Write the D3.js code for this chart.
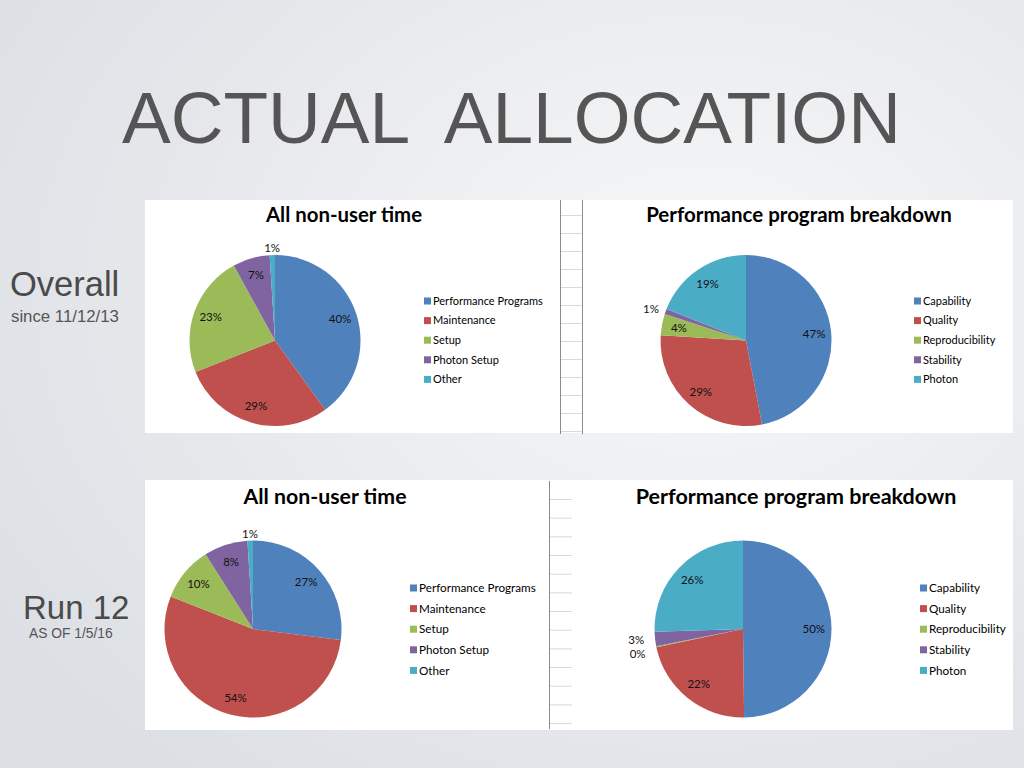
<!DOCTYPE html>
<html>
<head>
<meta charset="utf-8">
<script src="https://cdn.jsdelivr.net/npm/d3@7"></script>
<style>
    body { margin: 0; overflow: hidden; }
    svg { display: block; }
</style>
</head>
<body>
<div id="slide"></div>
<script>
// Data
var overallCategories = ["Performance Programs", "Maintenance", "Setup", "Photon Setup", "Other"];
var perfCategories = ["Capability", "Quality", "Reproducibility", "Stability", "Photon"];

// Overall (since 11/12/13)
var overallValues = [40, 29, 23, 7, 1];
var overallPerfValues = [47, 29, 4, 1, 19];

// Run 12 (as of 1/5/16)
var run12Values = [27, 54, 10, 8, 1];
var run12PerfValues = [49.8, 21.9, 0.2, 2.6, 25.5];

var chartTitles = ["All non-user time", "Performance program breakdown"];
var sideLabels = ["Overall", "Run 12"];
var sideSubLabels = ["since 11/12/13", "AS OF 1/5/16"];

// Excel 2007 default palette
var colors = ["#4F81BD", "#C0504D", "#9BBB59", "#8064A2", "#4BACC6"];

var svgWidth = 1024;
var svgHeight = 768;

var svg = d3.select("#slide")
    .append("svg")
    .attr("width", svgWidth)
    .attr("height", svgHeight);

// Background gradient
var defs = svg.append("defs");
var grad = defs.append("radialGradient")
    .attr("id", "bg")
    .attr("cx", "68%")
    .attr("cy", "38%")
    .attr("r", "80%");
grad.append("stop").attr("offset", "0%").attr("stop-color", "#f7f8f9");
grad.append("stop").attr("offset", "100%").attr("stop-color", "#dcdfe4");

svg.append("rect")
    .attr("width", svgWidth)
    .attr("height", svgHeight)
    .attr("fill", "url(#bg)");

// Slide title
svg.append("text")
    .attr("x", 122)
    .attr("y", 143)
    .style("white-space", "pre")
    .attr("font-family", "'Liberation Sans', Arial, sans-serif")
    .attr("font-size", 73)
    .attr("fill", "#555555")
    .text("ACTUAL  ALLOCATION");

// Side labels
var sides = [
    { x: 10, y: 296, size: 34.5, subX: 11, subY: 322, subSize: 16.8 },
    { x: 23, y: 619, size: 33, subX: 29, subY: 638, subSize: 13.8 }
];
sides.forEach(function (s, i) {
    svg.append("text")
        .attr("x", s.x)
        .attr("y", s.y)
        .attr("font-family", "'Liberation Sans', Arial, sans-serif")
        .attr("font-size", s.size)
        .attr("fill", "#4a4a4a")
        .text(sideLabels[i]);
    svg.append("text")
        .attr("x", s.subX)
        .attr("y", s.subY)
        .attr("font-family", "'Liberation Sans', Arial, sans-serif")
        .attr("font-size", s.subSize)
        .attr("fill", "#555555")
        .text(sideSubLabels[i]);
});

// White chart panels pasted from the spreadsheet
var panels = [
    { x: 145, y: 200, w: 868, h: 233 },
    { x: 145, y: 480, w: 868, h: 250 }
];
svg.selectAll(".panel")
    .data(panels)
    .enter()
    .append("rect")
    .attr("class", "panel")
    .attr("x", d => d.x)
    .attr("y", d => d.y)
    .attr("width", d => d.w)
    .attr("height", d => d.h)
    .attr("fill", "#ffffff");

// Spreadsheet cell strip between the two charts (top)
var gridTop = svg.append("g");
gridTop.selectAll("line.h")
    .data(d3.range(13))
    .enter()
    .append("line")
    .attr("x1", 560.5)
    .attr("x2", 582.5)
    .attr("y1", d => 215.5 + d * 18)
    .attr("y2", d => 215.5 + d * 18)
    .attr("stroke", "#d9d9d9");
gridTop.selectAll("line.v")
    .data([560.5, 582.5])
    .enter()
    .append("line")
    .attr("x1", d => d)
    .attr("x2", d => d)
    .attr("y1", 200)
    .attr("y2", 434)
    .attr("stroke", "#8c8c8c");

// Spreadsheet cell strip (bottom)
var gridBottom = svg.append("g");
gridBottom.selectAll("line")
    .data(d3.range(13))
    .enter()
    .append("line")
    .attr("x1", 549.5)
    .attr("x2", 572)
    .attr("y1", d => 499.5 + d * 18.67)
    .attr("y2", d => 499.5 + d * 18.67)
    .attr("stroke", "#d9d9d9");
gridBottom.append("line")
    .attr("x1", 549.5)
    .attr("x2", 549.5)
    .attr("y1", 481)
    .attr("y2", 729)
    .attr("stroke", "#8c8c8c");

// Layout of the four pie charts
var charts = [
    { values: overallValues, cats: overallCategories, title: chartTitles[0],
      cx: 275, cy: 340.5, r: 85.5, titleX: 344, titleY: 222, titleSize: 20.4,
      legX: 424, legY: 301, legStep: 19.6, legSize: 11, gap: 7 },
    { values: overallPerfValues, cats: perfCategories, title: chartTitles[1],
      cx: 746, cy: 340.5, r: 85.5, titleX: 799, titleY: 222, titleSize: 20.5,
      legX: 914, legY: 301, legStep: 19.6, legSize: 11, gap: 7 },
    { values: run12Values, cats: overallCategories, title: chartTitles[0],
      cx: 253, cy: 629, r: 88.5, titleX: 325, titleY: 504, titleSize: 21.3,
      legX: 410, legY: 588, legStep: 20.6, legSize: 11.7, gap: 7 },
    { values: run12PerfValues, cats: perfCategories, title: chartTitles[1],
      cx: 743, cy: 629, r: 88.5, titleX: 796, titleY: 504, titleSize: 21.5,
      legX: 920, legY: 588, legStep: 20.6, legSize: 11.7, gap: 11 }
];

var pie = d3.pie()
    .sort(null)
    .value(d => d);

function drawPie(c) {
    var g = svg.append("g")
        .attr("transform", `translate(${c.cx}, ${c.cy})`);

    var arcs = pie(c.values);
    var total = d3.sum(c.values);

    var arc = d3.arc()
        .innerRadius(0)
        .outerRadius(c.r);

    g.selectAll("path")
        .data(arcs)
        .enter()
        .append("path")
        .attr("d", arc)
        .attr("fill", (d, i) => colors[i]);

    // Data labels: inside for big slices, just outside for tiny ones
    var labels = arcs.map(function (d) {
        var pct = d.value / total * 100;
        var mid = (d.startAngle + d.endAngle) / 2;
        var outside = pct < 3.5;
        var rr = outside ? c.r + c.gap : c.r * 0.8;
        var x = rr * Math.sin(mid);
        var y = -rr * Math.cos(mid);
        var anchor = "middle";
        if (outside && Math.abs(Math.sin(mid)) > 0.3) {
            anchor = x < 0 ? "end" : "start";
        }
        return { text: Math.round(pct) + "%", x: x, y: y, anchor: anchor, outside: outside };
    });

    // push overlapping outside labels apart
    var outs = labels.filter(l => l.outside).sort((a, b) => a.y - b.y);
    for (var k = 1; k < outs.length; k++) {
        if (outs[k].y - outs[k - 1].y < 14) {
            outs[k].y = outs[k - 1].y + 14;
        }
    }

    g.selectAll("text.lbl")
        .data(labels)
        .enter()
        .append("text")
        .attr("class", "lbl")
        .attr("x", d => d.x)
        .attr("y", d => d.y)
        .attr("dy", "0.35em")
        .attr("text-anchor", d => d.anchor)
        .attr("font-family", "Lato, 'Open Sans', sans-serif")
        .attr("font-size", 11.5)
        .attr("fill", "#111111")
        .text(d => d.text);

    // Chart title
    svg.append("text")
        .attr("x", c.titleX)
        .attr("y", c.titleY)
        .attr("text-anchor", "middle")
        .attr("font-family", "Lato, 'Open Sans', sans-serif")
        .attr("font-weight", "bold")
        .attr("font-size", c.titleSize)
        .attr("fill", "#000000")
        .text(c.title);

    // Legend
    var legend = svg.append("g")
        .attr("transform", `translate(${c.legX}, ${c.legY})`);

    var rows = legend.selectAll("g")
        .data(c.cats)
        .enter()
        .append("g")
        .attr("transform", (d, i) => `translate(0, ${i * c.legStep})`);

    rows.append("rect")
        .attr("x", 0)
        .attr("y", -3.5)
        .attr("width", 7)
        .attr("height", 7)
        .attr("fill", (d, i) => colors[i]);

    rows.append("text")
        .attr("x", 9)
        .attr("y", 0)
        .attr("dy", "0.35em")
        .attr("font-family", "Lato, 'Open Sans', sans-serif")
        .attr("font-size", c.legSize)
        .attr("fill", "#000000")
        .text(d => d);
}

charts.forEach(drawPie);
</script>
</body>
</html>
